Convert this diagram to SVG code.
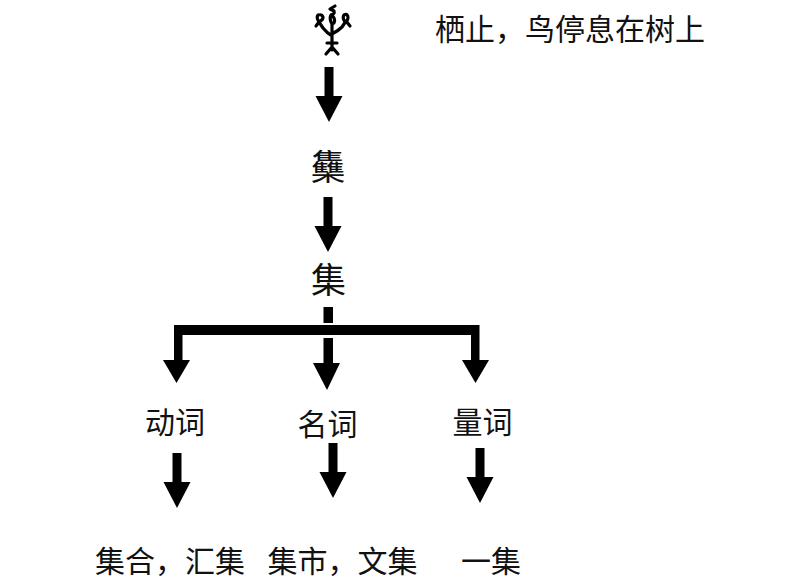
<svg xmlns="http://www.w3.org/2000/svg" width="800" height="584" viewBox="0 0 800 584">
<style>
text{font-family:"Noto Sans CJK SC","Noto Sans",sans-serif;fill:#111;}
.lbl{font-size:30px;text-anchor:middle;}
.big{font-size:35px;text-anchor:middle;}
.pic{fill:none;stroke:#000;stroke-width:3.2;stroke-linecap:round;stroke-linejoin:round;}
.bar{fill:#000;}
</style>
<defs>
<g id="arrow">
<rect x="-4.5" y="-55" width="9" height="30"/>
<polygon points="-13.5,-26 13.5,-26 0,0"/>
</g>
</defs>
<rect width="800" height="584" fill="#fff"/>
<g id="pictograph">
<path class="pic" d="M332,24 L332,50 M332,47 L326,54 M332,47 L338,54 M327,43 L337,43 M332,36 Q327,33 323,28 M323,28 L319,22 M319,22 L316,26 M319,22 Q316,18 318,15 Q322,14 323,17 Q323,20 320,21 M332,34 Q338,31 342,27 M342,27 L346,21 M346,21 L350,26 M345,22 Q342,18 344,15 Q348,13 348,18 Q348,20 346,21 M332,24 Q329,19 331,15 Q335,14 334,11 L330,9 L335,6 M331,15 Q336,18 334,23"/>
</g>
<g id="gloss"><text x="435" y="40" style="font-size:30px">栖止，鸟停息在树上</text></g>
<g id="char-jia"><text class="big" x="328" y="180">雧</text></g>
<g id="char-ji"><text class="big" x="328.5" y="293">集</text></g>
<g id="verb"><text class="lbl" x="175" y="433">动词</text></g>
<g id="noun"><text class="lbl" x="327.5" y="435">名词</text></g>
<g id="measure"><text class="lbl" x="482.5" y="433">量词</text></g>
<g id="ex-verb"><text class="lbl" x="170" y="572">集合，汇集</text></g>
<g id="ex-noun"><text class="lbl" x="342.5" y="572">集市，文集</text></g>
<g id="ex-measure"><text class="lbl" x="491" y="572">一集</text></g>
<g id="connectors" class="bar">
<use href="#arrow" transform="translate(329,122)"/>
<use href="#arrow" transform="translate(328,252)"/>
<rect x="323.5" y="307" width="9.5" height="16"/>
<rect x="175" y="325" width="304" height="10"/>
<rect x="174" y="325" width="8.5" height="36"/>
<polygon points="163,360 190,360 176.5,383"/>
<rect x="471" y="325" width="8.5" height="36"/>
<polygon points="462,360 489,360 475.5,383"/>
<rect x="323.5" y="338" width="9.5" height="26"/>
<polygon points="313,363 340,363 327,390"/>
<use href="#arrow" transform="translate(177,508)"/>
<use href="#arrow" transform="translate(333,498)"/>
<use href="#arrow" transform="translate(480,503)"/>
</g>
</svg>
